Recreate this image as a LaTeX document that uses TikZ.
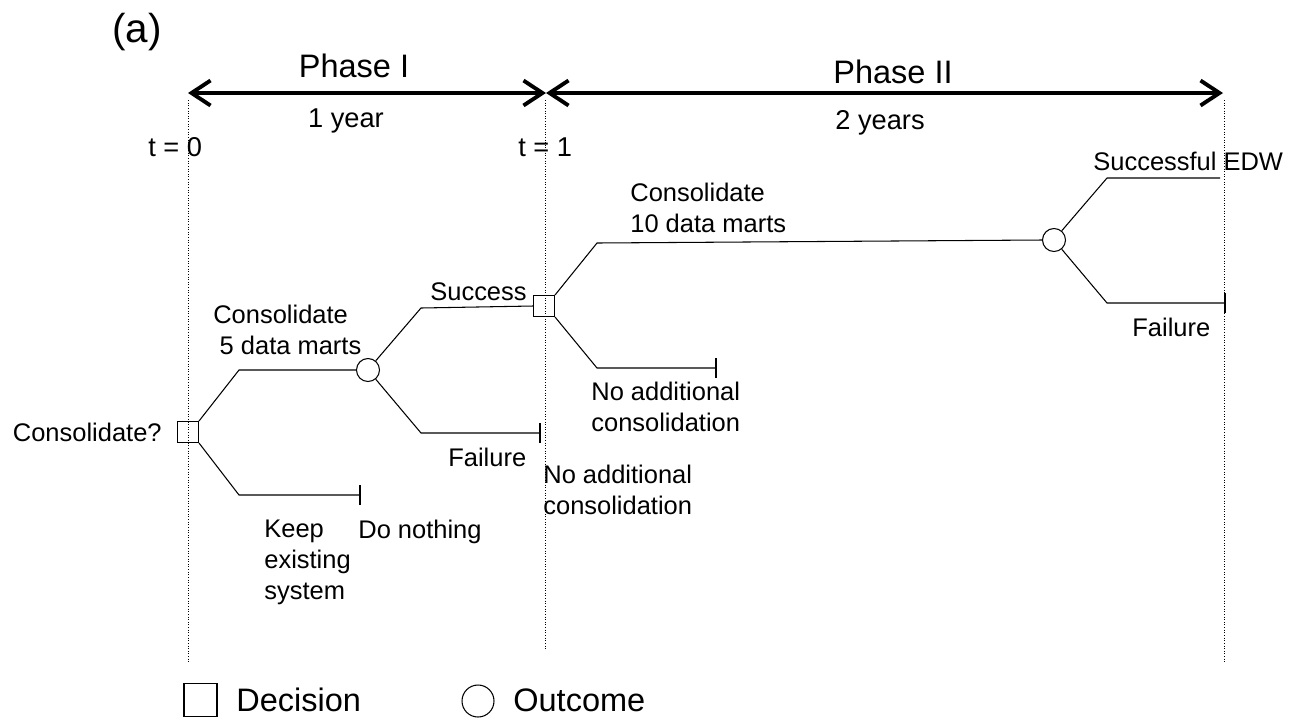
\documentclass[tikz,border=0pt]{standalone}
\usepackage{fontspec}
\setmainfont{Liberation Sans}
\usetikzlibrary{arrows.meta}
\begin{document}
\begin{tikzpicture}[x=0.02cm,y=-0.02cm,
 lbl/.style={font=\fontsize{14.5}{17.4}\selectfont, inner sep=0, align=left},
 mid/.style={font=\fontsize{15.5}{18}\selectfont, inner sep=0},
 big/.style={font=\fontsize{18.5}{22}\selectfont, inner sep=0},
 dec/.style={draw, rectangle, minimum size=0.42cm, inner sep=0, line width=0.6pt},
 outc/.style={draw, circle, minimum size=0.46cm, inner sep=0, line width=0.6pt},
 br/.style={line width=0.6pt},
 tline/.style={densely dotted, line width=0.5pt},
 phase/.style={line width=2.2pt, {Straight Barb[length=0.38cm,width=0.5cm]}-{Straight Barb[length=0.38cm,width=0.5cm]}},
]
\useasboundingbox (0,0) rectangle (1294,721);

% title
\node[font=\fontsize{23}{26}\selectfont, inner sep=0, anchor=north west] (a) at (112,13) {(a)};

% time lines
\coordinate (t0top) at (188,100); \coordinate (t0bot) at (188,662);
\coordinate (t1top) at (545,100); \coordinate (t1bot) at (545,650);
\coordinate (t3top) at (1224,100); \coordinate (t3bot) at (1224,662);
\draw[tline] (t0top) -- (t0bot);
\draw[tline] (t1top) -- (t1bot);
\draw[tline] (t3top) -- (t3bot);

% phase arrows
\coordinate (p0) at (188,93); \coordinate (p1) at (546,93); \coordinate (p3) at (1223,93);
\draw[phase] (p0) -- (p1);
\draw[phase] (p1) -- (p3);
\node[big, anchor=north] (ph1) at (354,54) {Phase I};
\node[big, anchor=north] (ph2) at (893,60) {Phase II};
\node[mid, anchor=north] (y1) at (346,108) {1 year};
\node[mid, anchor=north] (y2) at (880,110) {2 years};
\node[mid, anchor=north west] (tz) at (148,137) {t = 0};
\node[mid, anchor=north west] (to) at (518,137) {t = 1};

% tree nodes
\node[dec] (d1) at (188,432) {};
\node[outc] (c1) at (368,370) {};
\node[dec] (d2) at (544,306) {};
\node[outc] (c2) at (1054,240) {};

% bend coordinates
\coordinate (b1u) at (239,370);
\coordinate (b1l) at (239,495); \coordinate (e1l) at (360,495);
\coordinate (c1u) at (421,308);
\coordinate (c1l) at (421,433); \coordinate (e1f) at (540,433);
\coordinate (d2u) at (597,243);
\coordinate (d2l) at (597,368); \coordinate (e2l) at (716,368);
\coordinate (c2u) at (1107,178); \coordinate (e2s) at (1220,178);
\coordinate (c2l) at (1107,303); \coordinate (e2f) at (1225,303);

% branches
\draw[br] (d1.north east) -- (b1u) -- (c1.west);
\draw[br] (d1.south east) -- (b1l) -- (e1l);
\draw[br] ([yshift=-0.2cm]e1l) -- ([yshift=0.2cm]e1l);
\draw[br] (c1.50) -- (c1u) -- (d2.west);
\draw[br] (c1.-50) -- (c1l) -- (e1f);
\draw[br] ([yshift=-0.2cm]e1f) -- ([yshift=0.2cm]e1f);
\draw[br] (d2.north east) -- (d2u) -- (c2.west);
\draw[br] (d2.south east) -- (d2l) -- (e2l);
\draw[br] ([yshift=-0.2cm]e2l) -- ([yshift=0.2cm]e2l);
\draw[br] (c2.50) -- (c2u) -- (e2s);
\draw[br] (c2.-50) -- (c2l) -- (e2f);
\draw[br] ([yshift=-0.2cm]e2f) -- ([yshift=0.2cm]e2f);

% labels
\node[lbl, anchor=east] (lq) at (162,432) {Consolidate?};
\node[lbl, anchor=north west] (l5) at (213,305) {Consolidate\\\hspace{0.25em}5 data marts};
\node[lbl, anchor=north west] (lkeep) at (264,520) {Keep\\existing\\system};
\node[lbl, anchor=north west] (ldo) at (358,520) {Do nothing};
\node[lbl, anchor=north west] (lsucc) at (430,282) {Success};
\node[lbl, anchor=north west] (lf1) at (448,448) {Failure};
\node[lbl, anchor=north west] (lna2) at (543,465) {No additional\\consolidation};
\node[lbl, anchor=north west] (lna1) at (591,382) {No additional\\consolidation};
\node[lbl, anchor=north west] (l10) at (630,183) {Consolidate\\10 data marts};
\node[lbl, anchor=north west] (lsedw) at (1093,152) {Successful EDW};
\node[lbl, anchor=north west] (lf2) at (1132,318) {Failure};

% legend
\node[dec, minimum size=0.66cm] (legd) at (200.5,700) {};
\node[big, anchor=west] (legdt) at (236,700) {Decision};
\node[outc, minimum size=0.64cm] (lego) at (478,701) {};
\node[big, anchor=west] (legot) at (513,700) {Outcome};
\end{tikzpicture}
\end{document}
